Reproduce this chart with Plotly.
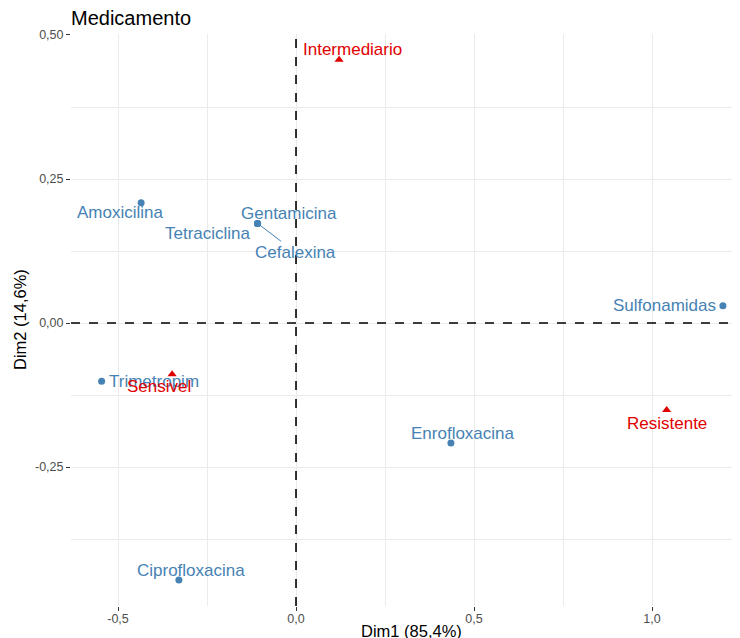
import plotly.graph_objects as go

# ---- data ----
row_names = ["Amoxicilina", "Gentamicina", "Tetraciclina", "Cefalexina",
             "Sulfonamidas", "Trimetropim", "Enrofloxacina", "Ciprofloxacina"]
row_x = [-0.435, -0.108, -0.108, -0.108, 1.199, -0.546, 0.435, -0.329]
row_y = [0.209, 0.173, 0.173, 0.173, 0.030, -0.101, -0.208, -0.446]

col_names = ["Intermediario", "Sensivel", "Resistente"]
col_x = [0.121, -0.348, 1.041]
col_y = [0.457, -0.089, -0.151]

x_tickvals = [-0.5, 0.0, 0.5, 1.0]
x_ticktext = ["-0,5", "0,0", "0,5", "1,0"]
y_tickvals = [-0.25, 0.0, 0.25, 0.5]
y_ticktext = ["-0,25", "0,00", "0,25", "0,50"]

title = "Medicamento"
x_title = "Dim1 (85,4%)"
y_title = "Dim2 (14,6%)"

# ---- styling ----
BLUE = "#4682B4"
RED = "#E00000"
FONT = "Liberation Sans, Arial, sans-serif"
LBL = 17

# label pixel offsets (dx right, dy up) per label
row_offsets = {
    "Amoxicilina": (-21, -10),
    "Gentamicina": (31, 10),
    "Tetraciclina": (-50, -10),
    "Sulfonamidas": (-58, 0),
    "Trimetropim": (52, 0),
    "Enrofloxacina": (12, 9),
    "Ciprofloxacina": (12, 10),
}
col_offsets = {
    "Intermediario": (13, 10),
    "Sensivel": (-13, -12),
    "Resistente": (0, -13),
}

fig = go.Figure()
fig.add_trace(go.Scatter(x=row_x, y=row_y, mode="markers",
                         marker=dict(color=BLUE, size=7, symbol="circle"),
                         hovertext=row_names, showlegend=False))
fig.add_trace(go.Scatter(x=col_x, y=col_y, mode="markers",
                         marker=dict(color=RED, size=8, symbol="triangle-up"),
                         hovertext=col_names, showlegend=False))

annotations = []
for n, x, y in zip(row_names, row_x, row_y):
    if n == "Cefalexina":
        annotations.append(dict(x=x, y=y, xref="x", yref="y", text=n,
                                showarrow=True, ax=38, ay=29, arrowhead=0,
                                arrowwidth=1, arrowcolor=BLUE, standoff=3,
                                font=dict(color=BLUE, size=LBL, family=FONT)))
    else:
        dx, dy = row_offsets[n]
        annotations.append(dict(x=x, y=y, xref="x", yref="y", text=n,
                                showarrow=False, xshift=dx, yshift=dy,
                                font=dict(color=BLUE, size=LBL, family=FONT)))
for n, x, y in zip(col_names, col_x, col_y):
    dx, dy = col_offsets[n]
    annotations.append(dict(x=x, y=y, xref="x", yref="y", text=n,
                            showarrow=False, xshift=dx, yshift=dy,
                            font=dict(color=RED, size=LBL, family=FONT)))

# page body has an 8px margin, so the figure is 8px smaller and offset
W, H = 732, 630
L, R, T, B = 63, 0, 26, 32
annotations.append(dict(x=(404 - L) / (W - L - R), y=0, xref="paper", yref="paper",
                        yshift=-25, text=x_title, showarrow=False,
                        xanchor="center", yanchor="middle",
                        font=dict(size=16.5, color="black", family=FONT)))
annotations.append(dict(x=0, y=0.5, xref="paper", yref="paper",
                        xshift=-(L - 12), text=y_title, showarrow=False,
                        textangle=-90, xanchor="center", yanchor="middle",
                        font=dict(size=16.5, color="black", family=FONT)))

grid = "#EBEBEB"
fig.update_layout(
    width=W, height=H,
    margin=dict(l=L, r=R, t=T, b=B, autoexpand=False),
    plot_bgcolor="white", paper_bgcolor="white",
    font=dict(family=FONT),
    title=dict(text=title, x=L / W, xanchor="left", y=1 - 10 / H, yanchor="middle",
               font=dict(size=20, color="black", family=FONT)),
    annotations=annotations,
    shapes=[
        dict(type="line", xref="x", yref="paper", x0=0, x1=0, y0=0, y1=1,
             line=dict(color="black", width=1.6, dash="dash")),
        dict(type="line", xref="paper", yref="y", x0=0, x1=1, y0=0, y1=0,
             line=dict(color="black", width=1.6, dash="dash")),
    ],
    xaxis=dict(range=[-0.632, 1.247], tickvals=x_tickvals, ticktext=x_ticktext,
               showgrid=True, gridcolor=grid, gridwidth=1.3, zeroline=False,
               ticks="outside", ticklen=4, tickcolor="#333333", tickwidth=1.1,
               tickfont=dict(size=12.5, color="#4D4D4D", family=FONT),
               ticklabelstandoff=-3,
               showline=False, automargin=False,
               minor=dict(tickvals=[-0.25, 0.25, 0.75], showgrid=True,
                          gridcolor=grid, gridwidth=0.7, ticks="")),
    yaxis=dict(range=[-0.4911, 0.5017], tickvals=y_tickvals, ticktext=y_ticktext,
               showgrid=True, gridcolor=grid, gridwidth=1.3, zeroline=False,
               ticks="outside", ticklen=4, tickcolor="#333333", tickwidth=1.1,
               tickfont=dict(size=12.5, color="#4D4D4D", family=FONT),
               showline=False, automargin=False,
               minor=dict(tickvals=[-0.375, -0.125, 0.125, 0.375], showgrid=True,
                          gridcolor=grid, gridwidth=0.7, ticks="")),
)

fig.write_html("out.html")
